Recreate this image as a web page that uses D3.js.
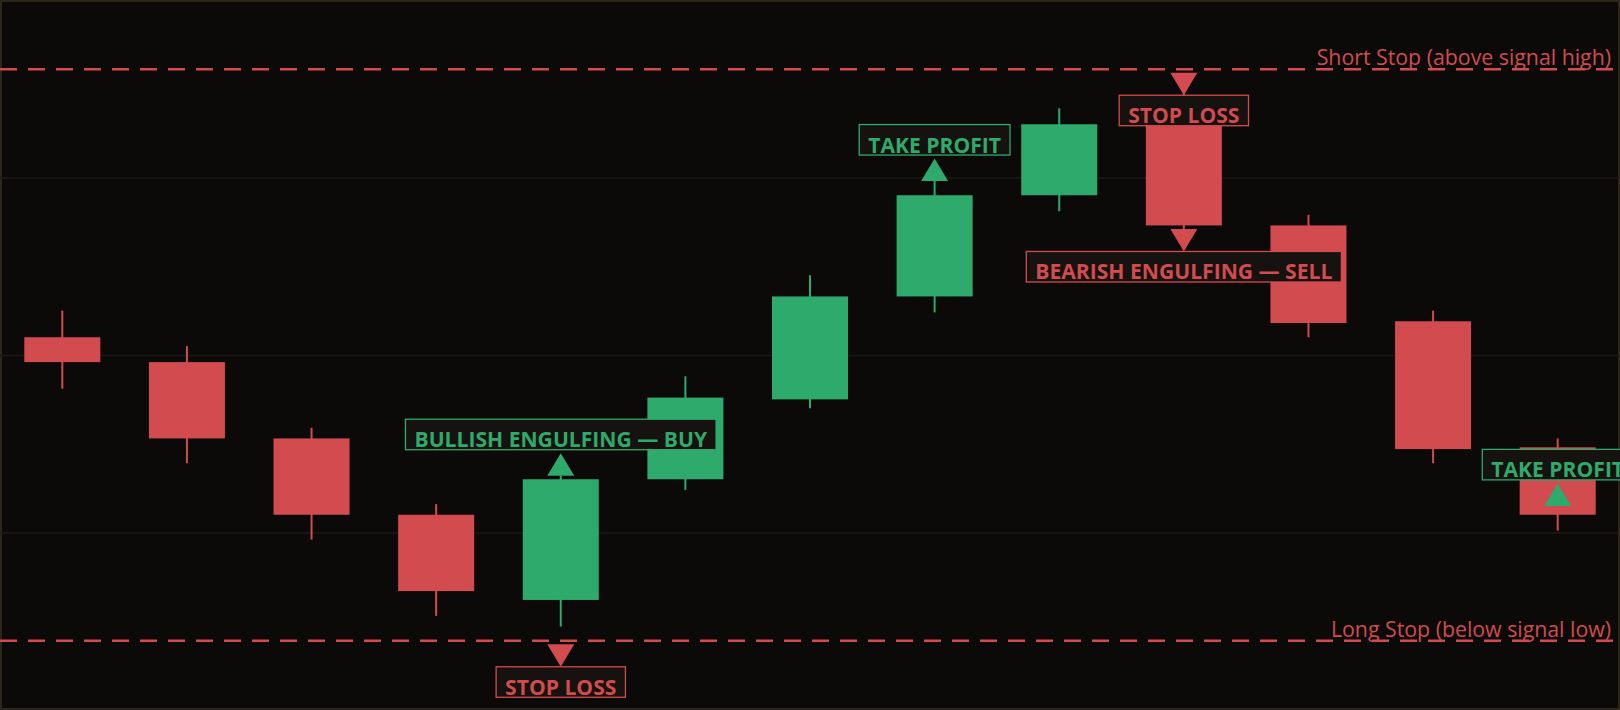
<!DOCTYPE html>
<html>
<head>
<meta charset="utf-8">
<script src="https://cdn.jsdelivr.net/npm/d3@7"></script>
<style>
  html, body { margin: 0; padding: 0; background: #0b0a09; }
  svg { display: block; }
</style>
</head>
<body>
<div id="chart"></div>
<script>
// candles (bar number, OHLC)
var bars   = [1, 2, 3, 4, 5, 6, 7, 8, 9, 10, 11, 12, 13];
var opens  = [100.10, 99.96, 99.53, 99.10, 98.62, 99.30, 99.75, 100.33, 100.90, 101.31, 100.73, 100.19, 99.48];
var highs  = [100.25, 100.05, 99.59, 99.16, 99.32, 99.88, 100.45, 100.98, 101.39, 101.53, 100.79, 100.25, 99.53];
var lows   = [99.81, 99.39, 98.96, 98.53, 98.47, 99.24, 99.70, 100.24, 100.81, 100.71, 100.10, 99.39, 99.01];
var closes = [99.96, 99.53, 99.10, 98.67, 99.30, 99.76, 100.33, 100.90, 101.30, 100.73, 100.18, 99.47, 99.10];

// stop levels
var stopNames  = ["Short Stop (above signal high)", "Long Stop (below signal low)"];
var stopLevels = [101.61, 98.39];

// signal / trade markers
var markerBars   = [5, 5, 8, 10, 10, 13];
var markerPrices = [99.32, 98.39, 100.98, 100.71, 101.61, 99.15];
var markerDirs   = ["up", "down", "up", "down", "down", "up"];
var markerKinds  = ["bull", "bear", "bull", "bear", "bear", "bull"];
var markerTexts  = ["BULLISH ENGULFING — BUY", "STOP LOSS", "TAKE PROFIT",
                    "BEARISH ENGULFING — SELL", "STOP LOSS", "TAKE PROFIT"];

var width = 1620;
var height = 710;

var bg = "#0b0a09";
var up = "#2daa6c";
var down = "#d24b4e";
var boxFill = "#15120f";
var gridColor = "#1c1a17";
var frameColor = "#2c2519";

var candles = bars.map(function(b, i) {
  return {bar: b, open: opens[i], high: highs[i], low: lows[i], close: closes[i]};
});

/* Scales */
var xScale = d3.scaleLinear()
  .domain([bars[0] - 0.5, bars[bars.length - 1] + 0.5])
  .range([0, width]);

var yScale = d3.scaleLinear()
  .domain([98, 102])
  .range([height, 0]);

var step = xScale(2) - xScale(1);
var bodyW = step * 0.61;

var svg = d3.select("#chart")
  .append("svg")
  .attr("width", width)
  .attr("height", height);

svg.append("rect")
  .attr("width", width)
  .attr("height", height)
  .attr("fill", bg);

svg.append("rect")
  .attr("x", 1).attr("y", 1)
  .attr("width", width - 2)
  .attr("height", height - 2)
  .attr("fill", "none")
  .attr("stroke", frameColor)
  .attr("stroke-width", 2);

/* gridlines from a hidden y axis */
var yAxis = d3.axisRight(yScale)
  .tickValues([99, 100, 101])
  .tickSize(width)
  .tickFormat("");

svg.append("g")
  .attr("class", "grid")
  .call(yAxis)
  .call(g => g.select(".domain").remove())
  .call(g => g.selectAll(".tick line")
    .attr("stroke", gridColor)
    .attr("stroke-width", 1.5));

/* candles */
var cg = svg.append("g").attr("class", "candles");

cg.selectAll(".wick")
  .data(candles).enter()
  .append("line")
  .attr("class", "wick")
  .attr("x1", d => xScale(d.bar))
  .attr("x2", d => xScale(d.bar))
  .attr("y1", d => yScale(d.high))
  .attr("y2", d => yScale(d.low))
  .attr("stroke", d => d.close >= d.open ? up : down)
  .attr("stroke-width", 2);

cg.selectAll(".body")
  .data(candles).enter()
  .append("rect")
  .attr("class", "body")
  .attr("x", d => xScale(d.bar) - bodyW / 2)
  .attr("width", bodyW)
  .attr("y", d => yScale(Math.max(d.open, d.close)))
  .attr("height", d => Math.abs(yScale(d.open) - yScale(d.close)))
  .attr("fill", d => d.close >= d.open ? up : down);

/* stop lines */
var stops = stopNames.map((n, i) => ({name: n, level: stopLevels[i]}));

svg.selectAll(".stop")
  .data(stops).enter()
  .append("line")
  .attr("class", "stop")
  .attr("x1", 0).attr("x2", width)
  .attr("y1", d => yScale(d.level))
  .attr("y2", d => yScale(d.level))
  .attr("stroke", down)
  .attr("stroke-width", 2.5)
  .attr("stroke-dasharray", "17,11");

svg.selectAll(".stop-label")
  .data(stops).enter()
  .append("text")
  .attr("class", "stop-label")
  .attr("x", 1611)
  .attr("y", d => yScale(d.level) - 4)
  .attr("text-anchor", "end")
  .attr("fill", down)
  .style("font-family", "'Open Sans', sans-serif")
  .style("font-size", "21.3px")
  .text(d => d.name);

/* markers with label boxes */
var triW = 27, triH = 22.5;
var markers = markerBars.map(function(b, i) {
  return {bar: b, price: markerPrices[i], dir: markerDirs[i],
          color: markerKinds[i] === "bull" ? up : down, text: markerTexts[i],
          gap: markerTexts[i] === "STOP LOSS" ? 3.5 : 0};
});

var mg = svg.append("g").attr("class", "markers");

markers.forEach(function(m) {
  var x = xScale(m.bar);
  var y0 = yScale(m.price);
  var pts, boxTop, boxBottom, base;
  if (m.dir === "up") {
    base = y0;
    pts = [[x - triW / 2, base], [x + triW / 2, base], [x, base - triH]];
    boxBottom = base - 26;
    boxTop = boxBottom - 30.5;
  } else {
    base = y0 + m.gap;
    pts = [[x - triW / 2, base], [x + triW / 2, base], [x, base + triH]];
    boxTop = base + triH;
    boxBottom = boxTop + 30.5;
  }

  mg.append("path")
    .attr("d", d3.line()(pts) + "Z")
    .attr("fill", m.color);

  var box = mg.append("rect")
    .attr("y", boxTop)
    .attr("height", boxBottom - boxTop)
    .attr("fill", boxFill)
    .attr("stroke", m.color)
    .attr("stroke-width", 1.3);

  var label = mg.append("text")
    .attr("x", x)
    .attr("y", boxBottom - 2.5)
    .attr("text-anchor", "middle")
    .attr("fill", m.color)
    .style("font-family", "'Open Sans', sans-serif")
    .style("font-weight", "700")
    .style("font-size", "21.1px")
    .text(m.text);

  var tw = label.node().getComputedTextLength() + 18;
  box.attr("x", x - tw / 2).attr("width", tw);
});
</script>
</body>
</html>
